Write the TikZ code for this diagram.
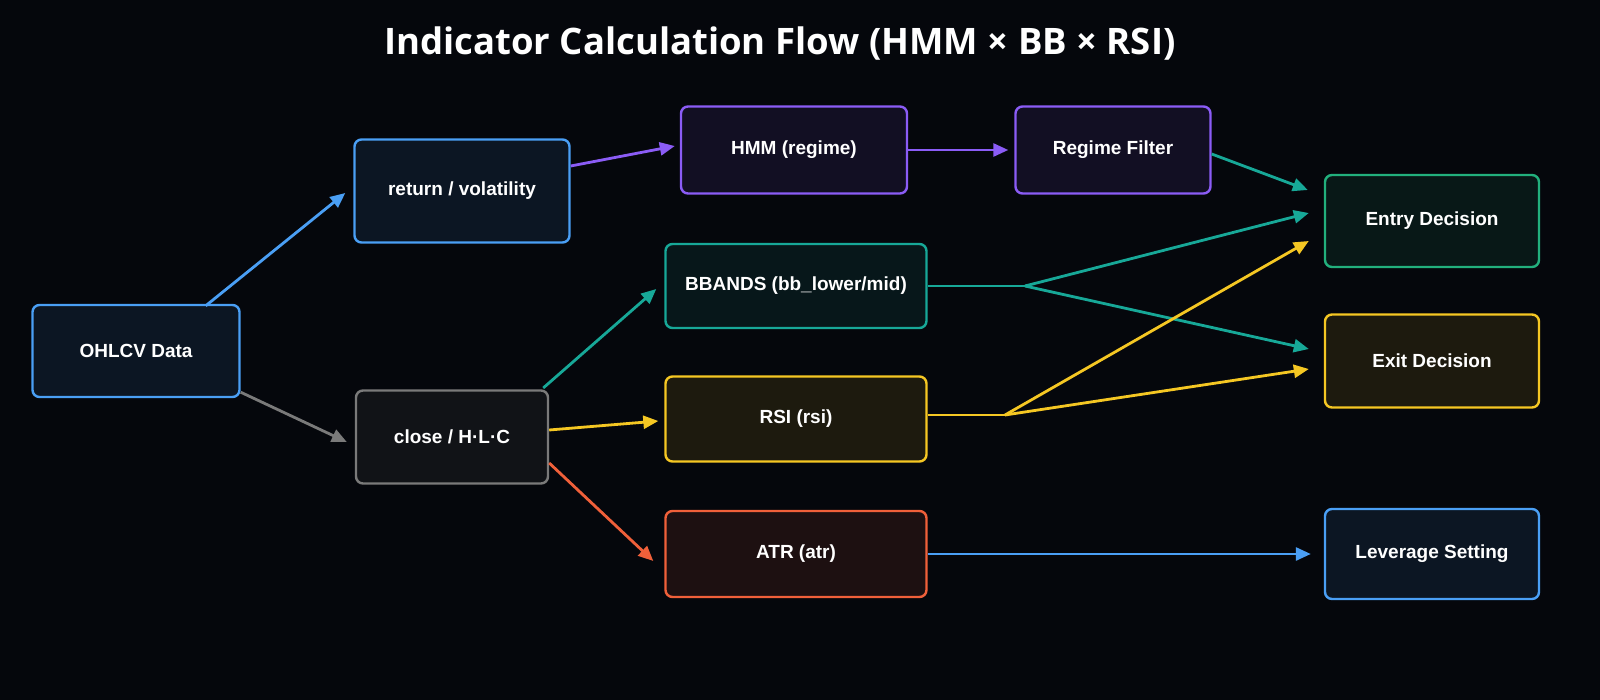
\documentclass[tikz,border=0pt]{standalone}
\usepackage{fontspec}
\setmainfont{Liberation Sans}
\newfontfamily\titlefont{Open Sans}
\usetikzlibrary{arrows.meta}
\definecolor{cblue}{HTML}{4A9FF5}
\definecolor{cgray}{HTML}{7A7A7A}
\definecolor{cpurple}{HTML}{8B5CF6}
\definecolor{cteal}{HTML}{17A898}
\definecolor{cyellow}{HTML}{F5C723}
\definecolor{corange}{HTML}{F0603A}
\definecolor{cgreen}{HTML}{22B07D}
\definecolor{bg}{HTML}{05070C}
\begin{document}
\begin{tikzpicture}[x=1pt,y=-1pt,
  box/.style={draw=#1,line width=2.4pt,rounded corners=7pt,text=white,
    font=\fontsize{19}{22}\selectfont\bfseries,anchor=center,fill=#1!10!bg},
  arr/.style={draw=#1,line width=2.8pt,-{Triangle[length=15pt,width=13pt]}},
  ln/.style={draw=#1,line width=2.8pt}]
\fill[bg] (0,0) rectangle (1600,700);
\useasboundingbox (0,0) rectangle (1600,700);
\node[text=white,font=\titlefont\fontsize{36.5}{42}\selectfont\bfseries] (title) at (780,44) {Indicator Calculation Flow (HMM × BB × RSI)};
\node[box=cblue,minimum width=207pt,minimum height=92pt] (ohlcv) at (136,351) {OHLCV Data};
\node[box=cblue,minimum width=215pt,minimum height=103pt] (ret) at (462,191) {return / volatility};
\node[box=cgray,minimum width=192pt,minimum height=93pt] (close) at (452,437) {close / H·L·C};
\node[box=cpurple,minimum width=226pt,minimum height=87pt] (hmm) at (794,150) {HMM (regime)};
\node[box=cpurple,minimum width=195pt,minimum height=87pt] (reg) at (1113,150) {Regime Filter};
\node[box=cteal,minimum width=261pt,minimum height=84pt] (bb) at (796,286) {BBANDS (bb\_lower/mid)};
\node[box=cyellow,minimum width=261pt,minimum height=85pt] (rsi) at (796,419) {RSI (rsi)};
\node[box=corange,minimum width=261pt,minimum height=86pt] (atr) at (796,554) {ATR (atr)};
\node[box=cgreen,minimum width=214pt,minimum height=92pt] (entry) at (1432,221) {Entry Decision};
\node[box=cyellow,minimum width=214pt,minimum height=93pt] (exit) at (1432,361) {Exit Decision};
\node[box=cblue,minimum width=214pt,minimum height=90pt] (lev) at (1432,554) {Leverage Setting};
\coordinate (bbj) at (1025,286);
\coordinate (rsij) at (1005,415);
\draw[arr=cblue] ([xshift=-35pt,yshift=-2pt]ohlcv.north east) -- ([xshift=-8pt,yshift=-2pt]ret.west);
\draw[arr=cgray] ([yshift=6pt]ohlcv.south east) -- ([xshift=-8pt,yshift=-5pt]close.west);
\draw[arr=cpurple] ([yshift=25pt]ret.east) -- ([xshift=-5pt,yshift=4pt]hmm.west);
\draw[arr=cpurple] (hmm.east) -- ([xshift=-6pt]reg.west);
\draw[arr=cteal] ([yshift=-4pt]reg.east) -- ([xshift=-16pt,yshift=31pt]entry.west);
\draw[arr=cteal] ([xshift=-6pt,yshift=49pt]close.east) -- ([xshift=-8pt,yshift=-3pt]bb.west);
\draw[arr=cyellow] ([yshift=7pt]close.east) -- ([xshift=-6pt,yshift=-2pt]rsi.west);
\draw[arr=corange] ([yshift=-26pt]close.east) -- ([xshift=-11pt,yshift=-7pt]atr.west);
\draw[ln=cteal] (bb.east) -- (bbj);
\draw[arr=cteal] (bbj) -- ([xshift=-15pt,yshift=8pt]entry.west);
\draw[arr=cteal] (bbj) -- ([xshift=-15pt,yshift=12pt]exit.west);
\draw[ln=cyellow] ([yshift=4pt]rsi.east) -- (rsij);
\draw[arr=cyellow] (rsij) -- ([xshift=-15pt,yshift=-20pt]entry.west);
\draw[arr=cyellow] (rsij) -- ([xshift=-15pt,yshift=-8pt]exit.west);
\draw[arr=cblue] (atr.east) -- ([xshift=-13pt]lev.west);
\end{tikzpicture}
\end{document}
